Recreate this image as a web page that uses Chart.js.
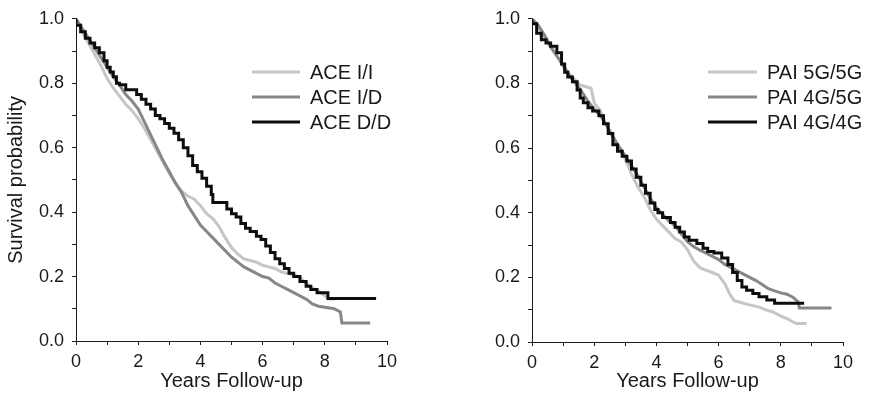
<!DOCTYPE html>
<html>
<head>
<meta charset="utf-8">
<script src="https://cdn.jsdelivr.net/npm/chart.js@4.4.1/dist/chart.umd.min.js"></script>
<style>
  body { margin: 0; background: #fff; }
  .panel { position: absolute; top: 0; }
</style>
</head>
<body>
<div class="panel" style="left:0"><canvas id="aceChart" width="435" height="393"></canvas></div>
<div class="panel" style="left:435px"><canvas id="paiChart" width="436" height="393"></canvas></div>
<script>
// Kaplan-Meier curves (years, survival)
const aceIITime = [0, 0.2, 0.4, 0.6, 0.8, 1.0, 1.2, 1.4, 1.6, 1.8, 2.0, 2.2, 2.4, 2.6, 2.8, 3.0, 3.2, 3.4, 3.6, 3.8, 4.0, 4.2, 4.4, 4.6, 4.8, 5.0, 5.2, 5.4, 5.6, 5.8, 6.0, 6.2, 6.4, 6.6, 6.8, 7.0, 7.2, 7.4, 7.6, 7.8, 8.0, 8.15, 8.35];
const aceIISurv = [1.0, 0.96, 0.925, 0.89, 0.855, 0.815, 0.785, 0.76, 0.735, 0.715, 0.69, 0.66, 0.625, 0.59, 0.555, 0.52, 0.49, 0.465, 0.45, 0.44, 0.42, 0.395, 0.38, 0.355, 0.32, 0.29, 0.27, 0.255, 0.25, 0.245, 0.235, 0.23, 0.225, 0.215, 0.21, 0.205, 0.198, 0.18, 0.165, 0.155, 0.14, 0.13, 0.13];

const aceIDTime = [0, 0.2, 0.4, 0.6, 0.8, 1.0, 1.2, 1.4, 1.6, 1.8, 2.0, 2.2, 2.4, 2.6, 2.8, 3.0, 3.2, 3.4, 3.6, 3.8, 4.0, 4.2, 4.4, 4.6, 4.8, 5.0, 5.2, 5.4, 5.6, 5.8, 6.0, 6.2, 6.4, 6.6, 6.8, 7.0, 7.2, 7.4, 7.6, 7.8, 8.0, 8.3, 8.5, 8.55, 9.46];
const aceIDSurv = [1.0, 0.97, 0.94, 0.91, 0.88, 0.85, 0.82, 0.795, 0.765, 0.745, 0.72, 0.68, 0.64, 0.60, 0.56, 0.525, 0.49, 0.46, 0.42, 0.39, 0.36, 0.34, 0.32, 0.30, 0.28, 0.26, 0.245, 0.23, 0.22, 0.21, 0.20, 0.195, 0.18, 0.17, 0.16, 0.15, 0.14, 0.13, 0.115, 0.108, 0.105, 0.10, 0.09, 0.056, 0.056];

const aceDDTime = [0, 0.15, 0.3, 0.45, 0.6, 0.75, 0.9, 1.0, 1.1, 1.2, 1.3, 1.4, 1.6, 1.95, 2.1, 2.25, 2.4, 2.55, 2.7, 2.85, 3.0, 3.15, 3.3, 3.45, 3.6, 3.75, 3.9, 4.05, 4.2, 4.35, 4.4, 4.85, 5.0, 5.15, 5.3, 5.45, 5.6, 5.8, 5.95, 6.1, 6.25, 6.4, 6.55, 6.7, 6.85, 7.0, 7.2, 7.4, 7.55, 7.75, 7.95, 8.1, 8.4, 9.65];
const aceDDSurv = [1.0, 0.98, 0.96, 0.94, 0.925, 0.91, 0.895, 0.87, 0.85, 0.835, 0.82, 0.80, 0.795, 0.78, 0.765, 0.75, 0.735, 0.72, 0.70, 0.69, 0.675, 0.66, 0.645, 0.625, 0.60, 0.575, 0.545, 0.525, 0.505, 0.48, 0.455, 0.43, 0.41, 0.395, 0.385, 0.365, 0.35, 0.34, 0.325, 0.315, 0.295, 0.275, 0.255, 0.24, 0.225, 0.21, 0.20, 0.185, 0.17, 0.16, 0.15, 0.15, 0.132, 0.132];

const pai55Time = [0, 0.2, 0.4, 0.6, 0.8, 1.0, 1.2, 1.4, 1.55, 1.9, 2.0, 2.2, 2.4, 2.6, 2.8, 3.0, 3.2, 3.4, 3.6, 3.8, 4.0, 4.2, 4.4, 4.6, 4.8, 5.0, 5.2, 5.4, 5.6, 5.8, 6.0, 6.2, 6.35, 6.5, 6.8, 7.0, 7.3, 7.5, 7.75, 8.0, 8.2, 8.4, 8.5, 8.83];
const pai55Surv = [1.0, 0.975, 0.945, 0.91, 0.885, 0.855, 0.83, 0.81, 0.795, 0.785, 0.74, 0.715, 0.67, 0.635, 0.60, 0.565, 0.52, 0.48, 0.45, 0.41, 0.38, 0.36, 0.34, 0.32, 0.31, 0.285, 0.25, 0.23, 0.222, 0.215, 0.207, 0.18, 0.15, 0.128, 0.12, 0.115, 0.108, 0.10, 0.093, 0.08, 0.072, 0.062, 0.057, 0.057];

const pai45Time = [0, 0.2, 0.4, 0.6, 0.8, 1.0, 1.2, 1.4, 1.6, 1.8, 2.0, 2.2, 2.4, 2.6, 2.8, 3.0, 3.2, 3.4, 3.6, 3.8, 4.0, 4.2, 4.4, 4.6, 4.8, 5.0, 5.2, 5.4, 5.6, 5.8, 6.0, 6.2, 6.4, 6.6, 6.8, 7.0, 7.2, 7.4, 7.6, 7.8, 8.0, 8.2, 8.4, 8.55, 8.6, 9.63];
const pai45Surv = [1.0, 0.98, 0.95, 0.915, 0.885, 0.855, 0.825, 0.80, 0.775, 0.745, 0.72, 0.70, 0.67, 0.635, 0.605, 0.575, 0.545, 0.515, 0.48, 0.445, 0.415, 0.395, 0.375, 0.36, 0.335, 0.31, 0.295, 0.284, 0.275, 0.265, 0.255, 0.24, 0.23, 0.22, 0.21, 0.20, 0.19, 0.178, 0.165, 0.158, 0.152, 0.148, 0.138, 0.125, 0.105, 0.105];

const pai44Time = [0, 0.15, 0.3, 0.45, 0.6, 0.8, 0.95, 1.05, 1.15, 1.3, 1.45, 1.55, 1.65, 1.8, 1.95, 2.15, 2.3, 2.45, 2.6, 2.75, 2.9, 3.05, 3.2, 3.35, 3.5, 3.65, 3.8, 3.95, 4.05, 4.2, 4.45, 4.6, 4.75, 4.9, 5.05, 5.3, 5.5, 5.65, 5.85, 6.1, 6.3, 6.45, 6.6, 6.75, 6.9, 7.1, 7.3, 7.55, 7.8, 8.0, 8.75];
const pai44Surv = [1.0, 0.985, 0.955, 0.935, 0.925, 0.915, 0.895, 0.86, 0.835, 0.82, 0.805, 0.78, 0.755, 0.74, 0.725, 0.715, 0.70, 0.675, 0.645, 0.61, 0.59, 0.575, 0.56, 0.535, 0.51, 0.485, 0.46, 0.43, 0.41, 0.40, 0.385, 0.37, 0.355, 0.34, 0.325, 0.315, 0.305, 0.29, 0.28, 0.275, 0.26, 0.24, 0.215, 0.19, 0.17, 0.16, 0.15, 0.14, 0.13, 0.12, 0.12];

const xTicksMax = 10;
const yTicksMax = 1.0;

const LIGHT = '#c6c6c6';
const MID = '#878787';
const DARK = '#0d0d0d';
const INK = '#1a1a1a';

function toPoints(times, surv) {
  return times.map((t, i) => ({ x: t, y: surv[i] }));
}

function kmDataset(label, times, surv, color, order, stepped) {
  return {
    label: label,
    data: toPoints(times, surv),
    borderColor: color,
    backgroundColor: color,
    borderWidth: 3,
    stepped: stepped,
    tension: 0,
    pointRadius: 0,
    fill: false,
    order: order
  };
}

// Legend drawn by hand so it sits where it does in the printed figure
const kmLegend = {
  id: 'kmLegend',
  afterDraw(chart, args, opts) {
    const ctx = chart.ctx;
    ctx.save();
    ctx.font = '20px "Liberation Sans", Arial, sans-serif';
    ctx.textBaseline = 'middle';
    ctx.textAlign = 'left';
    chart.data.datasets.forEach((ds, i) => {
      const y = opts.y + i * opts.gap;
      ctx.strokeStyle = ds.borderColor;
      ctx.lineWidth = 3;
      ctx.beginPath();
      ctx.moveTo(opts.x, y);
      ctx.lineTo(opts.x + opts.lineLen, y);
      ctx.stroke();
      ctx.fillStyle = INK;
      ctx.fillText(ds.label, opts.x + opts.lineLen + 10, y + 1);
    });
    ctx.restore();
  }
};

function makeOptions(cfg) {
  return {
    responsive: false,
    animation: false,
    layout: { padding: { top: cfg.top, right: cfg.right, left: 0, bottom: 0 } },
    plugins: {
      legend: { display: false },
      tooltip: { enabled: false },
      kmLegend: cfg.legend
    },
    scales: {
      x: {
        type: 'linear',
        min: 0,
        max: xTicksMax,
        afterFit(scale) { scale.height = cfg.xHeight; },
        border: { display: true, color: INK, width: 1 },
        grid: { drawOnChartArea: false, drawTicks: true, tickLength: 4, color: INK },
        ticks: {
          stepSize: 1,
          autoSkip: false,
          maxRotation: 0,
          padding: 6,
          color: INK,
          font: { size: 18 },
          callback: v => (Math.round(v) % 2 === 0 ? String(Math.round(v)) : '')
        },
        title: {
          display: true,
          text: 'Years Follow-up',
          color: INK,
          font: { size: 20 },
          padding: { top: 0, bottom: 0 }
        }
      },
      y: {
        min: 0,
        max: yTicksMax,
        afterFit(scale) { scale.width = cfg.yWidth; },
        border: { display: true, color: INK, width: 1 },
        grid: { drawOnChartArea: false, drawTicks: true, tickLength: 4, color: INK },
        ticks: {
          stepSize: 0.1,
          autoSkip: false,
          padding: 8,
          color: INK,
          font: { size: 18 },
          callback: v => (Math.round(v * 10) % 2 === 0 ? v.toFixed(1) : '')
        },
        title: {
          display: cfg.yTitle,
          text: 'Survival probability',
          color: INK,
          font: { size: 20 },
          padding: { top: 4, bottom: 0 }
        }
      }
    }
  };
}

Chart.defaults.font.family = '"Liberation Sans", Arial, sans-serif';

new Chart(document.getElementById('aceChart').getContext('2d'), {
  type: 'line',
  data: {
    datasets: [
      kmDataset('ACE I/I', aceIITime, aceIISurv, LIGHT, 2, false),
      kmDataset('ACE I/D', aceIDTime, aceIDSurv, MID, 1, false),
      kmDataset('ACE D/D', aceDDTime, aceDDSurv, DARK, 0, 'after')
    ]
  },
  options: makeOptions({
    top: 17, right: 48, xHeight: 52, yWidth: 76, yTitle: true,
    legend: { x: 252, y: 72, gap: 25, lineLen: 48 }
  }),
  plugins: [kmLegend]
});

new Chart(document.getElementById('paiChart').getContext('2d'), {
  type: 'line',
  data: {
    datasets: [
      kmDataset('PAI 5G/5G', pai55Time, pai55Surv, LIGHT, 2, false),
      kmDataset('PAI 4G/5G', pai45Time, pai45Surv, MID, 1, false),
      kmDataset('PAI 4G/4G', pai44Time, pai44Surv, DARK, 0, 'after')
    ]
  },
  options: makeOptions({
    top: 18, right: 28, xHeight: 51, yWidth: 97, yTitle: false,
    legend: { x: 273, y: 72, gap: 25, lineLen: 49 }
  }),
  plugins: [kmLegend]
});
</script>
</body>
</html>
